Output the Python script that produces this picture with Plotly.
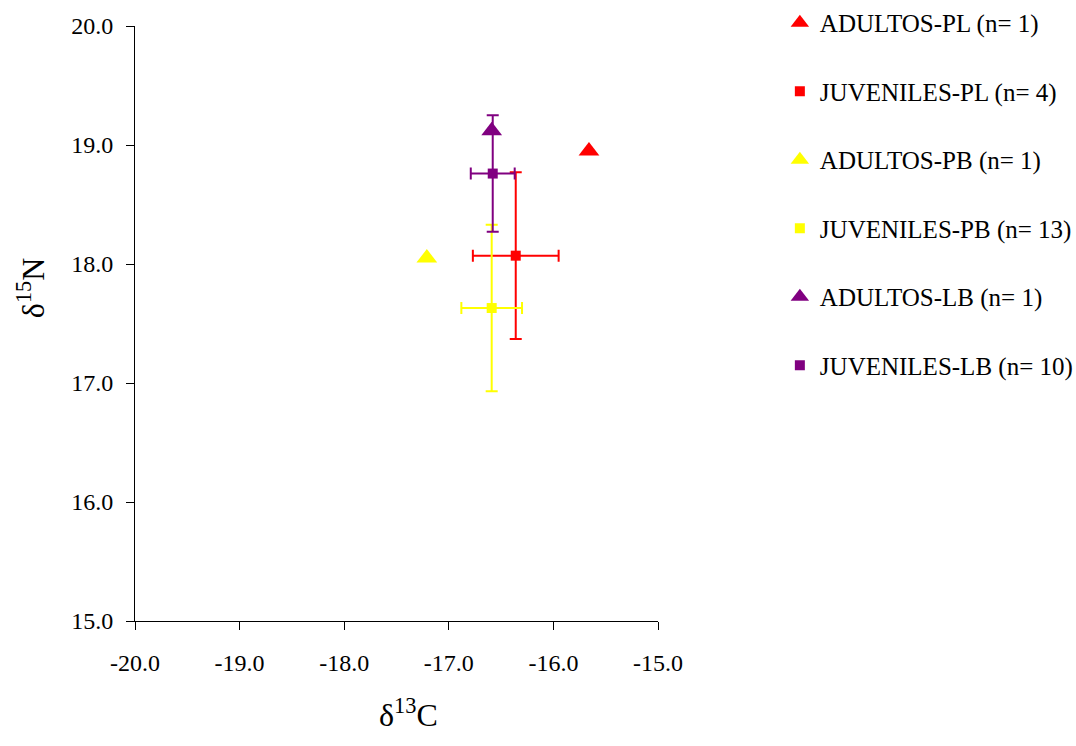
import plotly.graph_objects as go

names = ["ADULTOS-PL (n= 1)", "JUVENILES-PL (n= 4)", "ADULTOS-PB (n= 1)",
         "JUVENILES-PB (n= 13)", "ADULTOS-LB (n= 1)", "JUVENILES-LB (n= 10)"]
d13C = [-15.66, -16.36, -17.21, -16.59, -16.59, -16.58]
d15N = [18.95, 18.07, 18.05, 17.63, 19.12, 18.76]
err_C = [None, 0.41, None, 0.29, None, 0.21]
err_N = [None, 0.70, None, 0.70, None, 0.49]
colors = ["#ff0000", "#ff0000", "#ffff00", "#ffff00", "#800080", "#800080"]
symbols = ["triangle-up", "square", "triangle-up", "square", "triangle-up", "square"]

x_ticks = [-20.0, -19.0, -18.0, -17.0, -16.0, -15.0]
y_ticks = [15.0, 16.0, 17.0, 18.0, 19.0, 20.0]

fig = go.Figure()
for i in range(len(names)):
    tr = dict(
        x=[d13C[i]], y=[d15N[i]], mode="markers", name=names[i],
        legendgroup=str(i),
        marker=dict(color=colors[i], symbol=symbols[i],
                    size=18 if symbols[i] == "triangle-up" else 10,
                    line=dict(width=0)),
    )
    if err_C[i] is not None:
        tr["error_x"] = dict(type="data", array=[err_C[i]], color=colors[i], thickness=2, width=6)
        tr["error_y"] = dict(type="data", array=[err_N[i]], color=colors[i], thickness=2, width=6)
    fig.add_trace(go.Scatter(**tr))

font = "Liberation Serif, Times New Roman, serif"
fig.update_layout(
    width=1076, height=746,
    margin=dict(l=135, r=418, t=26, b=125, autoexpand=False),
    plot_bgcolor="white", paper_bgcolor="white",
    font=dict(family=font, size=24, color="black"),
    showlegend=True,
    legend=dict(x=1.233, y=1.0437, xanchor="left", yanchor="top",
                font=dict(family=font, size=25, color="black"),
                tracegroupgap=33, itemsizing="trace", maxheight=740),
    xaxis=dict(range=[-20, -15], tickvals=x_ticks, ticktext=[f"{v:.1f}" for v in x_ticks],
               showgrid=False, zeroline=False, showline=True, linecolor="black", linewidth=1,
               ticks="outside", ticklen=8, tickcolor="black", ticklabelstandoff=12,
               tickfont=dict(family=font, size=24), automargin=False),
    yaxis=dict(range=[15, 20], tickvals=y_ticks, ticktext=[f"{v:.1f}" for v in y_ticks],
               showgrid=False, zeroline=False, showline=True, linecolor="black", linewidth=1,
               ticks="outside", ticklen=8, tickcolor="black", ticklabelstandoff=8,
               tickfont=dict(family=font, size=24), automargin=False),
    annotations=[
        dict(text="δ<sup>15</sup>N", xref="paper", yref="paper",
             x=-0.2, y=0.56, xanchor="center", yanchor="middle",
             textangle=-90, showarrow=False,
             font=dict(family=font, size=32, color="black")),
        dict(text="δ<sup>13</sup>C", xref="paper", yref="paper",
             x=0.522, y=-0.155, xanchor="center", yanchor="middle",
             showarrow=False,
             font=dict(family=font, size=32, color="black")),
    ],
)
fig.write_html("out.html", config={"displayModeBar": False},
               post_script="document.body.style.margin='0';document.body.style.overflow='hidden';")
